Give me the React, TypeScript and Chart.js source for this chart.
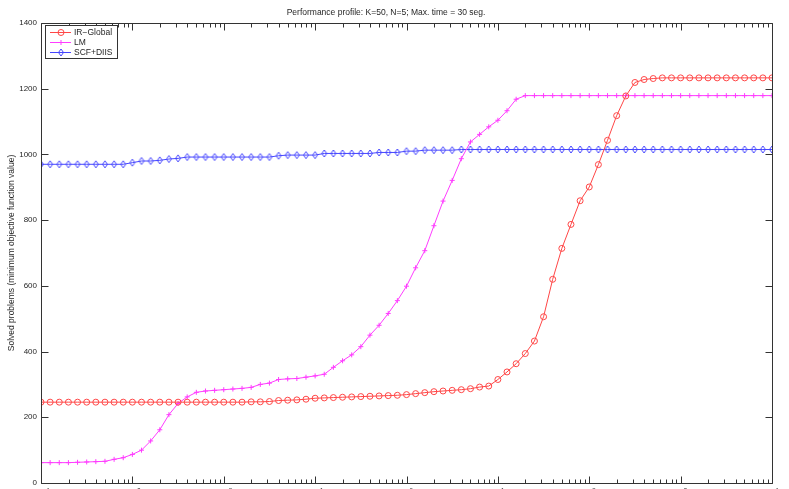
import React, { useEffect, useRef } from 'react';
import { Chart, registerables } from 'chart.js';

Chart.register(...registerables);

const TITLE = 'Performance profile: K=50, N=5; Max. time = 30 seg.';
const Y_LABEL = 'Solved problems (minimum objective function value)';
const SERIES_NAMES = ['IR\u2212Global', 'LM', 'SCF+DIIS'];

// log10 of the performance ratio tau at each sample
const tauExponents = [
  -4.0, -3.9, -3.8, -3.7, -3.6, -3.5, -3.4, -3.3, -3.2, -3.1,
  -3.0, -2.9, -2.8, -2.7, -2.6, -2.5, -2.4, -2.3, -2.2, -2.1,
  -2.0, -1.9, -1.8, -1.7, -1.6, -1.5, -1.4, -1.3, -1.2, -1.1,
  -1.0, -0.9, -0.8, -0.7, -0.6, -0.5, -0.4, -0.3, -0.2, -0.1,
  0.0, 0.1, 0.2, 0.3, 0.4, 0.5, 0.6, 0.7, 0.8, 0.9,
  1.0, 1.1, 1.2, 1.3, 1.4, 1.5, 1.6, 1.7, 1.8, 1.9,
  2.0, 2.1, 2.2, 2.3, 2.4, 2.5, 2.6, 2.7, 2.8, 2.9,
  3.0, 3.1, 3.2, 3.3, 3.4, 3.5, 3.6, 3.7, 3.8, 3.9,
  4.0,
];

const irGlobal = [
  246, 246, 246, 246, 246, 246, 246, 246, 246, 246,
  246, 246, 246, 246, 246, 246, 246, 246, 246, 246,
  246, 246, 246, 247, 247, 248, 251, 252, 253, 255,
  258, 259, 260, 261, 262, 263, 264, 265, 266, 267,
  269, 272, 275, 278, 280, 282, 284, 287, 292, 295,
  315, 338, 363, 394, 432, 506, 620, 714, 787, 859,
  901, 969, 1043, 1118, 1178, 1219, 1228, 1231, 1233, 1233,
  1233, 1233, 1233, 1233, 1233, 1233, 1233, 1233, 1233, 1233,
  1233,
];

const lm = [
  62, 62, 62, 62, 63, 64, 65, 66, 72, 77,
  87, 100, 128, 162, 208, 242, 262, 276, 280, 282,
  284, 286, 288, 291, 300, 304, 315, 317, 318, 322,
  326, 331, 352, 372, 390, 415, 450, 480, 516, 555,
  599, 655, 707, 783, 858, 921, 987, 1038, 1061, 1084,
  1104, 1133, 1168, 1179, 1179, 1179, 1179, 1179, 1179, 1179,
  1179, 1179, 1179, 1179, 1179, 1179, 1179, 1179, 1179, 1179,
  1179, 1179, 1179, 1179, 1179, 1179, 1179, 1179, 1179, 1179,
  1179,
];

const scfDiis = [
  970, 970, 970, 970, 970, 970, 970, 970, 970, 970,
  975, 980, 980, 982, 986, 988, 992, 992, 992, 992,
  992, 992, 992, 992, 992, 992, 996, 998, 998, 998,
  998, 1003, 1003, 1003, 1003, 1003, 1003, 1006, 1006, 1006,
  1010, 1010, 1013, 1013, 1013, 1013, 1015, 1015, 1015, 1015,
  1015, 1015, 1015, 1015, 1015, 1015, 1015, 1015, 1015, 1015,
  1015, 1015, 1015, 1015, 1015, 1015, 1015, 1015, 1015, 1015,
  1015, 1015, 1015, 1015, 1015, 1015, 1015, 1015, 1015, 1015,
  1015,
];

const xDecades = [-4, -3, -2, -1, 0, 1, 2, 3, 4];
const yTicks = [0, 200, 400, 600, 800, 1000, 1200, 1400];

const COLORS = ['rgb(255,70,70)', 'rgb(255,60,255)', 'rgb(70,70,255)'];
const AXIS_COLOR = '#333333';
const TEXT_COLOR = '#262626';
const FONT = 'Liberation Sans, Arial, Helvetica, sans-serif';

const W = 789;
const H = 505;
const PLOT_BOTTOM = 483;

function makeDiamond(color: string) {
  const c = document.createElement('canvas');
  c.width = 8;
  c.height = 11;
  const g = c.getContext('2d')!;
  g.strokeStyle = color;
  g.lineWidth = 1;
  g.beginPath();
  g.moveTo(4, 2);
  g.lineTo(6.5, 5.5);
  g.lineTo(4, 9);
  g.lineTo(1.5, 5.5);
  g.closePath();
  g.stroke();
  return c;
}

function drawMarker(ctx: CanvasRenderingContext2D, kind: number, x: number, y: number, color: string) {
  ctx.save();
  ctx.strokeStyle = color;
  ctx.lineWidth = 1;
  ctx.beginPath();
  if (kind === 0) {
    ctx.arc(x, y, 3, 0, Math.PI * 2);
  } else if (kind === 1) {
    ctx.moveTo(x - 2.5, y);
    ctx.lineTo(x + 2.5, y);
    ctx.moveTo(x, y - 2.5);
    ctx.lineTo(x, y + 2.5);
  } else {
    ctx.moveTo(x, y - 3.5);
    ctx.lineTo(x + 2.5, y);
    ctx.lineTo(x, y + 3.5);
    ctx.lineTo(x - 2.5, y);
    ctx.closePath();
  }
  ctx.stroke();
  ctx.restore();
}

const framePlugin = {
  id: 'matlabFrame',
  afterDraw(chart: any) {
    const { ctx, chartArea } = chart;
    const xs = chart.scales.x;
    const ys = chart.scales.y;
    const L = Math.round(chartArea.left) + 0.5;
    const R = Math.round(chartArea.right) + 0.5;
    const T = Math.round(chartArea.top) + 0.5;
    const B = Math.round(chartArea.bottom) + 0.5;
    ctx.save();
    ctx.strokeStyle = AXIS_COLOR;
    ctx.lineWidth = 1;
    ctx.beginPath();
    ctx.rect(L, T, R - L, B - T);
    // y ticks, inward on both sides
    yTicks.forEach((v) => {
      const y = Math.round(ys.getPixelForValue(v)) + 0.5;
      ctx.moveTo(L, y);
      ctx.lineTo(L + 7, y);
      ctx.moveTo(R, y);
      ctx.lineTo(R - 7, y);
    });
    // x ticks (major decades and minor ticks), inward on bottom and top
    for (let d = 0; d < xDecades.length; d++) {
      const e = xDecades[d];
      for (let k = 1; k <= 9; k++) {
        if (d === xDecades.length - 1 && k > 1) break;
        const x = Math.round(xs.getPixelForValue(k * Math.pow(10, e))) + 0.5;
        const len = k === 1 ? 7 : 4;
        ctx.moveTo(x, B);
        ctx.lineTo(x, B - len);
        ctx.moveTo(x, T);
        ctx.lineTo(x, T + len);
      }
    }
    ctx.stroke();

    // x tick labels 10^e (mostly below the visible window)
    ctx.fillStyle = TEXT_COLOR;
    ctx.textBaseline = 'top';
    xDecades.forEach((e) => {
      const x = xs.getPixelForValue(Math.pow(10, e));
      ctx.font = `8px ${FONT}`;
      ctx.textAlign = 'right';
      ctx.fillText('10', x + 2, B + 9);
      ctx.font = `6px ${FONT}`;
      ctx.textAlign = 'left';
      ctx.fillText(String(e), x + 3, B + 4);
    });

    // legend
    const lx = 45.5, ly = 25.5, lw = 72, lh = 33;
    ctx.fillStyle = '#ffffff';
    ctx.fillRect(lx, ly, lw, lh);
    ctx.strokeStyle = AXIS_COLOR;
    ctx.strokeRect(lx, ly, lw, lh);
    ctx.font = `8.5px ${FONT}`;
    ctx.textAlign = 'left';
    ctx.textBaseline = 'middle';
    SERIES_NAMES.forEach((name, i) => {
      const y = 32.5 + i * 10;
      ctx.strokeStyle = COLORS[i];
      ctx.beginPath();
      ctx.moveTo(50, y);
      ctx.lineTo(71, y);
      ctx.stroke();
      drawMarker(ctx, i, 61, y, COLORS[i]);
      ctx.fillStyle = TEXT_COLOR;
      ctx.fillText(name, 74, y + 0.5);
    });
    ctx.restore();
  },
};

export default function App() {
  const ref = useRef<HTMLCanvasElement | null>(null);

  useEffect(() => {
    document.body.style.margin = '0';
    document.body.style.overflow = 'hidden';
    const canvas = ref.current!;
    const toPoints = (vals: number[]) =>
      vals.map((v, i) => ({ x: Math.pow(10, tauExponents[i]), y: v }));

    const chart = new Chart(canvas, {
      type: 'line',
      data: {
        datasets: [
          {
            label: SERIES_NAMES[0],
            data: toPoints(irGlobal),
            borderColor: COLORS[0],
            backgroundColor: 'rgba(0,0,0,0)',
            borderWidth: 1,
            pointStyle: 'circle',
            pointRadius: 3,
            pointBorderWidth: 1,
            pointBorderColor: COLORS[0],
            pointBackgroundColor: 'rgba(0,0,0,0)',
            tension: 0,
          },
          {
            label: SERIES_NAMES[1],
            data: toPoints(lm),
            borderColor: COLORS[1],
            backgroundColor: 'rgba(0,0,0,0)',
            borderWidth: 1,
            pointStyle: 'cross',
            pointRadius: 2.5,
            pointBorderWidth: 1,
            pointBorderColor: COLORS[1],
            tension: 0,
          },
          {
            label: SERIES_NAMES[2],
            data: toPoints(scfDiis),
            borderColor: COLORS[2],
            backgroundColor: 'rgba(0,0,0,0)',
            borderWidth: 1,
            pointStyle: makeDiamond(COLORS[2]) as any,
            pointRadius: 4,
            tension: 0,
          },
        ],
      },
      options: {
        responsive: false,
        maintainAspectRatio: false,
        animation: false,
        devicePixelRatio: 1,
        layout: { padding: { left: 0, right: 17, top: 0, bottom: 0 } },
        plugins: {
          legend: { display: false },
          tooltip: { enabled: false },
          title: {
            display: true,
            text: TITLE,
            color: TEXT_COLOR,
            font: { family: FONT, size: 8.5, weight: 'normal' as any },
            padding: { top: 7.9, bottom: 4.9 },
          },
        },
        scales: {
          x: {
            type: 'logarithmic',
            min: 1e-4,
            max: 1e4,
            grid: { display: false, drawTicks: false },
            border: { display: false },
            ticks: { display: false },
            afterFit: (s: any) => {
              s.height = H - PLOT_BOTTOM;
            },
          },
          y: {
            type: 'linear',
            min: 0,
            max: 1400,
            grid: { display: false, drawTicks: false },
            border: { display: false },
            afterBuildTicks: (s: any) => {
              s.ticks = yTicks.map((v) => ({ value: v }));
            },
            ticks: {
              color: TEXT_COLOR,
              font: { family: FONT, size: 8 },
              padding: 4,
              callback: (v: any) => String(v),
            },
            title: {
              display: true,
              text: Y_LABEL,
              color: TEXT_COLOR,
              font: { family: FONT, size: 8.5 },
              padding: { top: 6.5, bottom: 0 },
            },
            afterFit: (s: any) => {
              s.width = 41;
            },
          },
        },
      },
      plugins: [framePlugin],
    });
    return () => chart.destroy();
  }, []);

  return (
    <div style={{ width: W, height: H, position: 'relative' }}>
      <canvas ref={ref} width={W} height={H} style={{ display: 'block', width: W, height: H }} />
    </div>
  );
}
